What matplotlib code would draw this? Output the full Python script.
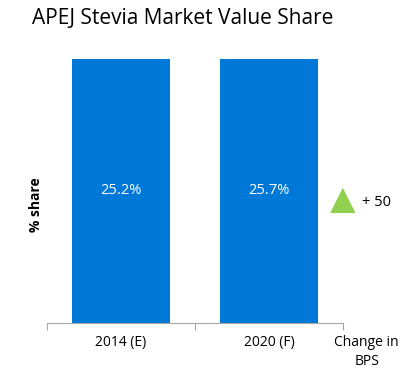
import matplotlib.pyplot as plt
import numpy as np

plt.rcParams['font.family'] = ['Open Sans', 'DejaVu Sans']

# chart data
years = ['2014 (E)', '2020 (F)']
share = [25.2, 25.7]          # value share, %
bar_height = [1.0, 1.0]       # bars drawn full height in the original
change_bps = 50

W, H = 413, 379
fig = plt.figure(figsize=(W / 100, H / 100), dpi=100)
ax = fig.add_axes([47 / W, (H - 323) / H, (343 - 47) / W, (323 - 59) / H])

x = np.arange(len(years))
ax.bar(x, bar_height, width=0.66, color='#0078D7')
for xi, s in zip(x, share):
    ax.text(xi, 0.5, '%.1f%%' % s, color='white', ha='center', va='center', fontsize=10.5)

ax.set_xlim(-0.5, 1.5)
ax.set_ylim(0, 1)
for side in ['top', 'right', 'left']:
    ax.spines[side].set_visible(False)
ax.spines['bottom'].set_color('#A6A6A6')
ax.set_yticks([])
ax.set_xticks([-0.5, 0.5, 1.5])
ax.set_xticklabels([])
ax.tick_params(axis='x', length=5, color='#A6A6A6')
for xi, lab in zip(x, years):
    ax.text(xi, -0.075, lab, ha='center', va='center', fontsize=10,
            transform=ax.get_xaxis_transform())

ax.text(1.5 + 0.16, -0.11, 'Change in\nBPS', ha='center', va='center', fontsize=10,
        linespacing=1.3, transform=ax.get_xaxis_transform(), clip_on=False)

# change marker
fig.text(343 / W, 1 - 199 / H, '\u25B2', color='#92D050', fontsize=24,
         ha='center', va='center', family='DejaVu Sans')
fig.text(362 / W, 1 - 203 / H, '+ %d' % change_bps, fontsize=10.5, ha='left', va='center')

fig.text(36 / W, 1 - 205 / H, '% share', rotation=90, fontweight='bold',
         fontsize=10, ha='center', va='center')
fig.text(32 / W, 1 - 18 / H, 'APEJ Stevia Market Value Share', fontsize=15,
         ha='left', va='center')

fig.savefig('out.png', dpi=100)
